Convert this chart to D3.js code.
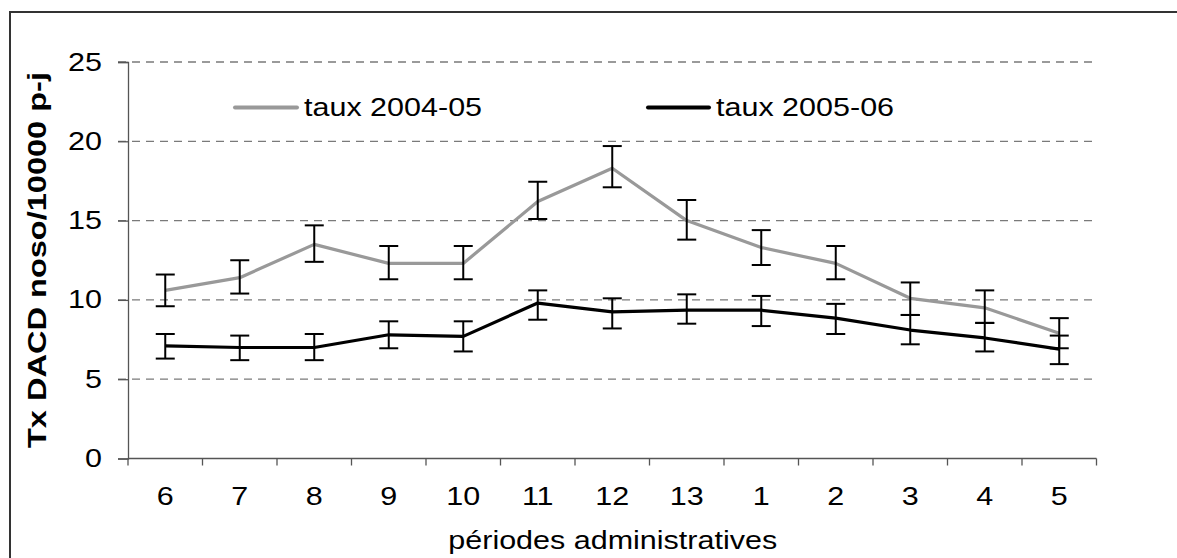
<!DOCTYPE html>
<html>
<head>
<meta charset="utf-8">
<script src="https://cdn.jsdelivr.net/npm/d3@7"></script>
<style>
  html, body { margin: 0; padding: 0; background: #fff; }
  svg { display: block; font-family: "Liberation Sans", Arial, sans-serif; }
</style>
</head>
<body>
<svg id="chart" width="1177" height="558"></svg>
<script>
// Administrative periods (x categories)
const periods = ["6", "7", "8", "9", "10", "11", "12", "13", "1", "2", "3", "4", "5"];

// Rate 2004-05 with lower / upper bounds
const taux0405 = [10.6, 11.4, 13.5, 12.3, 12.3, 16.2, 18.3, 15.0, 13.3, 12.3, 10.1, 9.5, 7.9];
const lo0405   = [9.6, 10.4, 12.4, 11.3, 11.3, 15.1, 17.1, 13.8, 12.2, 11.3, 9.05, 8.55, 6.95];
const hi0405   = [11.6, 12.5, 14.7, 13.4, 13.4, 17.45, 19.7, 16.3, 14.4, 13.4, 11.1, 10.6, 8.85];

// Rate 2005-06 with lower / upper bounds
const taux0506 = [7.1, 7.0, 7.0, 7.8, 7.7, 9.8, 9.25, 9.35, 9.35, 8.85, 8.1, 7.6, 6.9];
const lo0506   = [6.3, 6.2, 6.2, 6.95, 6.75, 8.75, 8.2, 8.5, 8.35, 7.85, 7.2, 6.75, 5.95];
const hi0506   = [7.85, 7.75, 7.85, 8.65, 8.65, 10.6, 10.1, 10.35, 10.25, 9.75, 9.05, 8.55, 7.75];

const yTicks = [0, 5, 10, 15, 20, 25];
const seriesNames = ["taux 2004-05", "taux 2005-06"];
const seriesColors = ["#999999", "#000000"];

const svg = d3.select("#chart");
const stretchX = 1.22;
const fontSize = 25;

const plotLeft = 128, plotRight = 1096.5, plotTop = 62, plotBottom = 458.5;

const x = d3.scaleBand().domain(periods).range([plotLeft, plotRight]).paddingInner(0).paddingOuter(0);
const y = d3.scaleLinear().domain([0, 25]).range([plotBottom, plotTop]);

// Widen glyphs horizontally
function widen(sel, k) {
  sel.each(function () {
    const w = this.getComputedTextLength();
    this.setAttribute("textLength", w * k);
    this.setAttribute("lengthAdjust", "spacingAndGlyphs");
  });
}

// Frame around the chart area
svg.append("rect")
  .attr("x", 10).attr("y", 12)
  .attr("width", 1300).attr("height", 700)
  .attr("fill", "none").attr("stroke", "#333").attr("stroke-width", 2);

// Dashed horizontal gridlines
svg.append("g").selectAll("line")
  .data(yTicks.filter(d => d > 0))
  .join("line")
  .attr("x1", plotLeft - 10).attr("x2", plotRight)
  .attr("y1", d => y(d)).attr("y2", d => y(d))
  .attr("stroke", "#7a7a7a").attr("stroke-width", 1.3)
  .attr("stroke-dasharray", "8,6");

// Y axis
const yAxis = svg.append("g")
  .attr("transform", `translate(${plotLeft},0)`)
  .call(d3.axisLeft(y).tickValues(yTicks).tickSize(10).tickPadding(16));
yAxis.select(".domain").attr("stroke", "#555").attr("stroke-width", 1.3);
yAxis.selectAll(".tick line").attr("stroke", "#555").attr("stroke-width", 1.3);
yAxis.selectAll("text")
  .attr("font-size", fontSize).attr("fill", "#000")
  .attr("font-family", "Liberation Sans, Arial, sans-serif");
widen(yAxis.selectAll("text"), stretchX);

// X axis with ticks at category boundaries
const xAxisG = svg.append("g").attr("transform", `translate(0,${plotBottom})`);
xAxisG.append("line")
  .attr("x1", plotLeft).attr("x2", plotRight).attr("y1", 0).attr("y2", 0)
  .attr("stroke", "#555").attr("stroke-width", 1.3);
const boundaries = periods.map(p => x(p)).concat([plotRight]);
xAxisG.selectAll("line.tk")
  .data(boundaries)
  .join("line").attr("class", "tk")
  .attr("x1", d => d).attr("x2", d => d)
  .attr("y1", 0).attr("y2", 7)
  .attr("stroke", "#555").attr("stroke-width", 1.3);
const xLabels = xAxisG.selectAll("text")
  .data(periods)
  .join("text")
  .attr("x", d => x(d) + x.bandwidth() / 2)
  .attr("y", 46.5)
  .attr("text-anchor", "middle")
  .attr("font-size", fontSize).attr("fill", "#000")
  .text(d => d);
widen(xLabels, stretchX);

// Axis titles
const xTitle = svg.append("text")
  .attr("x", (plotLeft + plotRight) / 2 + 0.5).attr("y", 549)
  .attr("text-anchor", "middle")
  .attr("font-size", fontSize).attr("fill", "#000")
  .text("périodes administratives");
widen(xTitle, stretchX);

const yTitle = svg.append("text")
  .attr("transform", "translate(46,260) rotate(-90)")
  .attr("text-anchor", "middle")
  .attr("font-size", 26).attr("font-weight", "bold").attr("fill", "#000")
  .text("Tx DACD noso/10000 p-j");
yTitle.attr("textLength", 376).attr("lengthAdjust", "spacingAndGlyphs");

// Series lines
const cx = d => x(d) + x.bandwidth() / 2;
const line = d3.line().x(d => cx(d.p)).y(d => y(d.v));
const series = [
  { vals: taux0405, lo: lo0405, hi: hi0405, color: seriesColors[0] },
  { vals: taux0506, lo: lo0506, hi: hi0506, color: seriesColors[1] }
];
series.forEach(s => {
  svg.append("path")
    .datum(periods.map((p, i) => ({ p, v: s.vals[i] })))
    .attr("fill", "none")
    .attr("stroke", s.color)
    .attr("stroke-width", 3.2)
    .attr("stroke-linejoin", "round")
    .attr("d", line);
});

// Error bars (black, with caps)
series.forEach(s => {
  const g = svg.append("g").attr("stroke", "#000").attr("stroke-width", 2);
  const data = periods.map((p, i) => ({ p, lo: s.lo[i], hi: s.hi[i] }));
  g.selectAll("line.v").data(data).join("line").attr("class", "v")
    .attr("x1", d => cx(d.p)).attr("x2", d => cx(d.p))
    .attr("y1", d => y(d.lo)).attr("y2", d => y(d.hi));
  g.selectAll("line.h").data(data).join("line").attr("class", "h")
    .attr("x1", d => cx(d.p) - 9.5).attr("x2", d => cx(d.p) + 9.5)
    .attr("y1", d => y(d.hi)).attr("y2", d => y(d.hi));
  g.selectAll("line.l").data(data).join("line").attr("class", "l")
    .attr("x1", d => cx(d.p) - 9.5).attr("x2", d => cx(d.p) + 9.5)
    .attr("y1", d => y(d.lo)).attr("y2", d => y(d.lo));
});

// Legend
const legendItems = [
  { name: seriesNames[0], color: seriesColors[0], x0: 235, x1: 297, tx: 304 },
  { name: seriesNames[1], color: seriesColors[1], x0: 648, x1: 709, tx: 716 }
];
legendItems.forEach(item => {
  svg.append("line")
    .attr("x1", item.x0).attr("x2", item.x1)
    .attr("y1", 107.5).attr("y2", 107.5)
    .attr("stroke", item.color).attr("stroke-width", 4)
    .attr("stroke-linecap", "round");
  const t = svg.append("text")
    .attr("x", item.tx).attr("y", 116)
    .attr("font-size", fontSize).attr("fill", "#000")
    .text(item.name);
  widen(t, stretchX);
});
</script>
</body>
</html>
